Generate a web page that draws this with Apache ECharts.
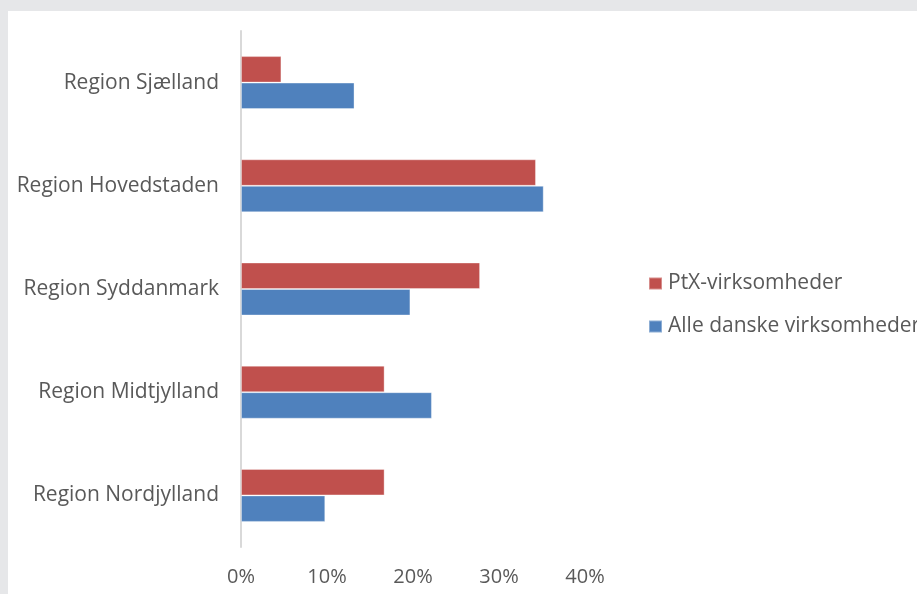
<!DOCTYPE html>
<html>
<head>
<meta charset="utf-8">
<script src="https://cdn.jsdelivr.net/npm/echarts@6/dist/echarts.min.js"></script>
<style>
  html, body { margin: 0; padding: 0; background: #e6e7e9; width: 917px; height: 594px; overflow: hidden; }
  #chart { position: absolute; left: 8px; top: 11px; width: 909px; height: 583px; background: #ffffff; }
</style>
</head>
<body>
<div id="chart"></div>
<script>
// Regions, listed bottom to top as they appear on the category axis
const regions = ['Region Nordjylland', 'Region Midtjylland', 'Region Syddanmark', 'Region Hovedstaden', 'Region Sjælland'];
// Share of companies per region (%)
const ptxCompanies = [16.7, 16.7, 27.8, 34.3, 4.7];
const allDanishCompanies = [9.8, 22.2, 19.7, 35.2, 13.2];
const seriesNames = ['PtX-virksomheder', 'Alle danske virksomheder'];
const xTicks = [0, 10, 20, 30, 40];

const FONT = 'Open Sans';
const TEXT = '#595959';

const chart = echarts.init(document.getElementById('chart'), null, { renderer: 'canvas' });
chart.setOption({
  animation: false,
  backgroundColor: '#ffffff',
  textStyle: { fontFamily: FONT },
  grid: { left: 233, right: 332, top: 20, bottom: 47, containLabel: false },
  legend: {
    orient: 'vertical',
    left: 640,
    top: 262,
    padding: 0,
    itemWidth: 13,
    itemHeight: 12,
    itemGap: 22,
    icon: 'rect',
    textStyle: { fontFamily: FONT, fontSize: 21, color: TEXT, padding: [0, 0, 0, 1] },
    data: seriesNames
  },
  xAxis: {
    type: 'value',
    min: xTicks[0],
    max: xTicks[xTicks.length - 1],
    interval: 10,
    axisLine: { show: false },
    axisTick: { show: false },
    splitLine: { show: false },
    axisLabel: { fontFamily: FONT, fontSize: 20, color: TEXT, margin: 20, formatter: v => v + '%' }
  },
  yAxis: {
    type: 'category',
    data: regions,
    axisLine: { show: true, lineStyle: { color: '#d9d9d9', width: 2 } },
    axisTick: { show: false },
    axisLabel: { fontFamily: FONT, fontSize: 21, color: TEXT, margin: 22 }
  },
  series: [
    {
      name: seriesNames[0],
      type: 'bar',
      data: ptxCompanies,
      barWidth: 26.5,
      barGap: '0%',
      itemStyle: { color: '#c0504d', borderColor: 'rgba(255,255,255,0.35)', borderWidth: 1 }
    },
    {
      name: seriesNames[1],
      type: 'bar',
      data: allDanishCompanies,
      barWidth: 26.5,
      barGap: '0%',
      itemStyle: { color: '#4f81bd', borderColor: 'rgba(255,255,255,0.35)', borderWidth: 1 }
    }
  ]
});
</script>
</body>
</html>
